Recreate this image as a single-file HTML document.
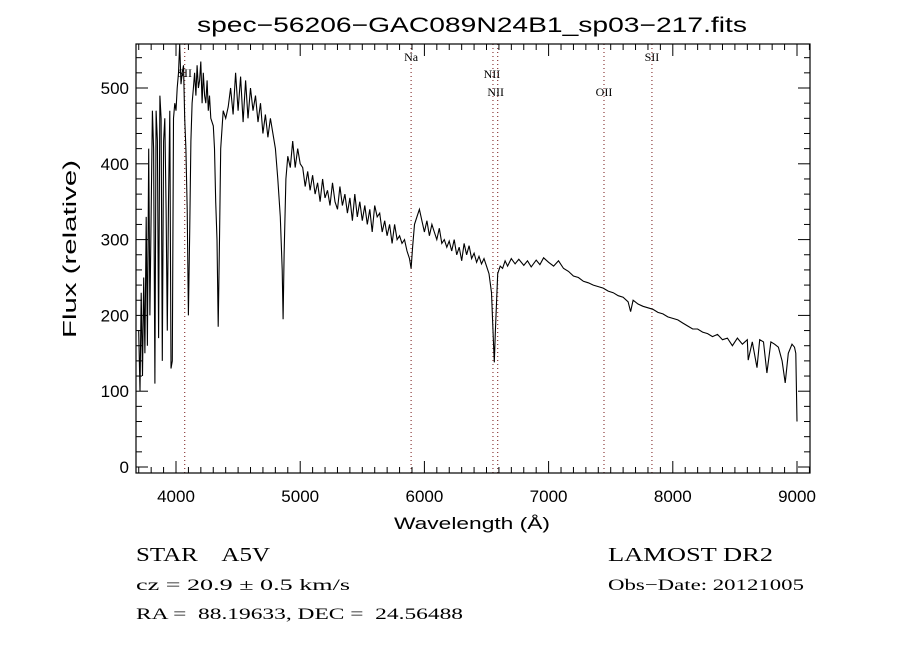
<!DOCTYPE html>
<html><head><meta charset="utf-8"><style>
body{margin:0;background:#fff;}
svg text{font-family:"Liberation Sans",sans-serif;white-space:pre;}
</style></head><body>
<svg id="chart" width="900" height="650" xmlns="http://www.w3.org/2000/svg">
<rect width="900" height="650" fill="#fff"/>
<text x="197" y="32" font-size="21" textLength="550" lengthAdjust="spacingAndGlyphs">spec−56206−GAC089N24B1_sp03−217.fits</text>
<text x="394" y="529" font-size="17" textLength="156" lengthAdjust="spacingAndGlyphs">Wavelength (Å)</text>
<text transform="translate(76,338) rotate(-90)" font-size="18" textLength="178" lengthAdjust="spacingAndGlyphs">Flux (relative)</text>
<g>
<text x="136" y="561" font-size="20" textLength="134" lengthAdjust="spacingAndGlyphs" style="font-family:'Liberation Serif',serif">STAR    A5V</text>
<text x="136" y="590" font-size="16" textLength="214" lengthAdjust="spacingAndGlyphs" style="font-family:'Liberation Serif',serif">cz = 20.9 ± 0.5 km/s</text>
<text x="136" y="619" font-size="16" textLength="327" lengthAdjust="spacingAndGlyphs" style="font-family:'Liberation Serif',serif">RA =  88.19633, DEC =  24.56488</text>
<text x="608" y="561" font-size="20" textLength="165" lengthAdjust="spacingAndGlyphs" style="font-family:'Liberation Serif',serif">LAMOST DR2</text>
<text x="608" y="590" font-size="16" textLength="196" lengthAdjust="spacingAndGlyphs" style="font-family:'Liberation Serif',serif">Obs−Date: 20121005</text>
</g>
<g id="plot"></g>
</svg>
<script>
const wave=[3700,3710,3720,3730,3740,3750,3760,3770,3780,3790,3800,3810,3820,3830,3840,3850,3860,3870,3880,3890,3900,3910,3920,3930,3940,3950,3960,3970,3980,3990,4000,4010,4020,4030,4040,4050,4060,4070,4080,4090,4100,4110,4120,4130,4140,4150,4160,4170,4180,4190,4200,4210,4220,4230,4240,4250,4260,4270,4280,4300,4310,4320,4330,4340,4350,4360,4380,4400,4420,4440,4460,4480,4500,4520,4540,4560,4580,4600,4620,4640,4660,4680,4700,4720,4740,4760,4780,4800,4820,4840,4855,4862,4870,4885,4900,4920,4940,4960,4980,5000,5020,5040,5060,5080,5100,5120,5140,5160,5180,5200,5220,5240,5260,5280,5300,5320,5340,5360,5380,5400,5420,5440,5460,5480,5500,5520,5540,5560,5580,5600,5620,5640,5660,5680,5700,5720,5740,5760,5780,5800,5820,5840,5860,5880,5893,5905,5920,5940,5960,5980,6000,6020,6040,6060,6080,6100,6120,6140,6160,6180,6200,6220,6240,6260,6280,6300,6320,6340,6360,6380,6400,6420,6440,6460,6480,6500,6520,6540,6555,6563,6572,6590,6610,6630,6650,6670,6700,6730,6760,6800,6830,6860,6900,6930,6960,7000,7040,7080,7120,7160,7200,7240,7280,7320,7360,7400,7440,7480,7520,7560,7600,7640,7660,7680,7720,7760,7800,7840,7880,7920,7960,8000,8040,8080,8120,8160,8200,8240,8280,8320,8360,8400,8440,8480,8520,8560,8600,8607,8640,8678,8700,8730,8758,8790,8820,8850,8880,8905,8930,8960,8980,8990,9000];
const flux=[180,100,230,120,250,150,330,160,420,200,340,470,420,110,470,430,170,490,460,140,430,460,340,180,350,470,130,140,460,480,470,500,520,560,505,520,530,460,420,340,200,310,430,480,500,520,490,530,500,510,535,480,520,490,480,510,470,490,460,450,420,350,300,185,300,420,470,460,475,500,465,520,470,515,455,510,460,500,470,490,455,480,440,465,435,460,440,420,380,330,260,195,280,380,410,395,430,395,420,400,395,370,390,365,385,360,375,350,380,355,365,345,375,350,340,370,345,360,335,355,325,360,330,350,325,345,320,340,310,345,330,335,310,325,305,320,295,320,300,305,295,300,285,275,262,290,320,330,340,325,310,325,305,320,310,300,315,295,300,290,298,285,300,280,290,272,295,280,292,275,282,270,278,268,275,265,255,230,170,138,180,255,265,262,272,265,275,268,274,266,272,264,273,267,276,270,265,272,262,258,252,250,245,243,240,238,236,232,230,226,224,218,205,220,215,212,210,208,204,202,198,196,194,190,186,182,182,178,176,172,175,168,170,160,170,162,168,141,165,131,168,165,124,165,162,158,140,111,150,162,158,150,60,-10];
const xTicks=[4000,5000,6000,7000,8000,9000];
const yTicks=[0,100,200,300,400,500];
const lineWaves=[4070,5893,6552,6590,7446,7832];
const lineNames=["SII","Na","NII","NII","OII","SII"];
const lineLabelY=[77,61,78,96,96,61];

const L=136,R=810,T=44,B=473;
const x=w=>176+(w-4000)*0.1242;
const y=f=>467-f*0.758;
const NS="http://www.w3.org/2000/svg";
const g=document.getElementById('plot');
function mk(t,a){const e=document.createElementNS(NS,t);for(const k in a)e.setAttribute(k,a[k]);g.appendChild(e);return e;}

lineWaves.forEach((w,i)=>{
  const l=mk('line',{x1:x(w),x2:x(w),y1:T,y2:B,stroke:'#8b3a3a','stroke-width':1.2,'stroke-dasharray':'1 3'});
  
  
  const t=mk('text',{x:x(w)+(i==2?-1:(i==3?-2:0)),y:lineLabelY[i],'font-size':12,'text-anchor':'middle',style:"font-family:'Liberation Serif',serif"});
  t.textContent=lineNames[i];
  
  
});

let d='';
wave.forEach((w,i)=>{d+=(i?'L':'M')+x(w).toFixed(1)+' '+Math.min(B,Math.max(T,y(flux[i]))).toFixed(1);});
const p=mk('path',{d:d,fill:'none',stroke:'#000','stroke-width':1.1});



const fr=mk('rect',{x:L,y:T,width:R-L,height:B-T,fill:'none',stroke:'#000','stroke-width':1.2});



for(let w=3700;w<=9100;w+=100){
  const xx=x(w); if(xx<L||xx>R)continue;
  const len=(w%1000===0)?12:6;
  const t1=mk('line',{x1:xx,x2:xx,y1:B,y2:B-len,stroke:'#000'});
  
  
  const t2=mk('line',{x1:xx,x2:xx,y1:T,y2:T+len,stroke:'#000'});
  
  
}
xTicks.forEach(w=>{
  const t=mk('text',{x:x(w),y:502,'font-size':17,'text-anchor':'middle'});
  t.textContent=w;
  
  
});
for(let f=0;f<=560;f+=20){
  const yy=y(f); if(yy<T||yy>B)continue;
  const len=(f%100===0)?12:6;
  const t1=mk('line',{x1:L,x2:L+len,y1:yy,y2:yy,stroke:'#000'});
  
  
  const t2=mk('line',{x1:R,x2:R-len,y1:yy,y2:yy,stroke:'#000'});
  
  
}
yTicks.forEach(f=>{
  const t=mk('text',{x:129,y:y(f)+6,'font-size':17,'text-anchor':'end'});
  t.textContent=f;
  
  
});
</script>
</body></html>
